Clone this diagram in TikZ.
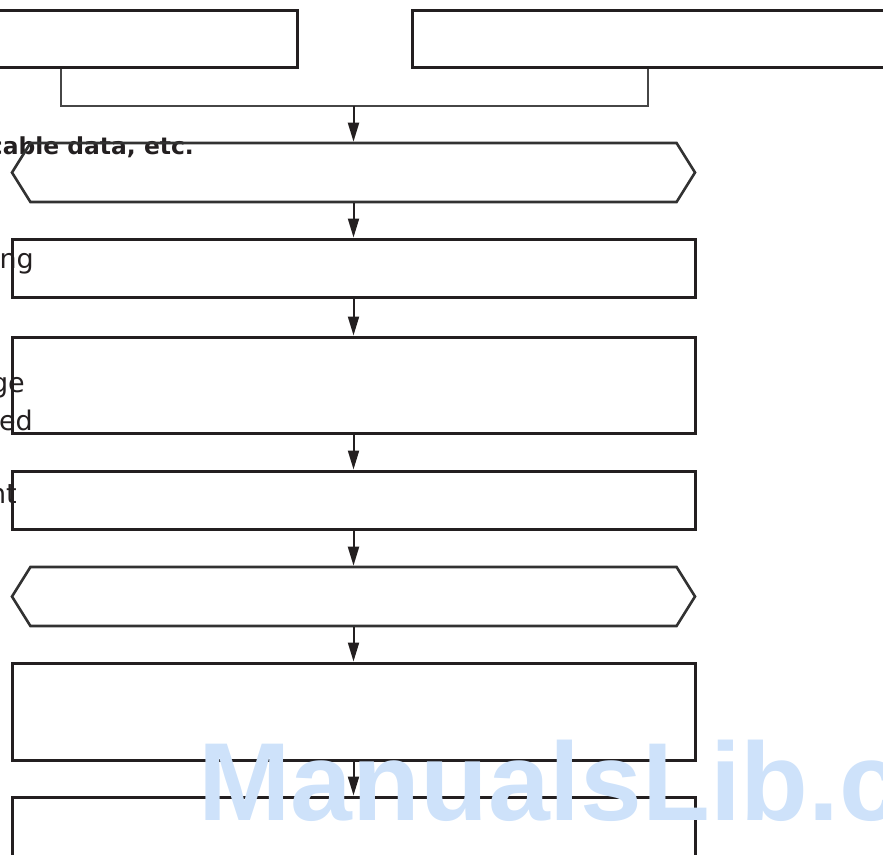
\documentclass[tikz,border=0pt]{standalone}
\usepackage{fontspec}
\setmainfont{DejaVu Sans}
\newfontfamily\marksans{Liberation Sans}
\usetikzlibrary{arrows.meta,shapes.symbols}
\definecolor{boxline}{RGB}{35,31,32}
\definecolor{hexline}{RGB}{50,50,50}
\definecolor{linkline}{RGB}{70,70,70}
\definecolor{markblue}{RGB}{206,226,250}
\tikzset{
  stepbox/.style={draw=boxline,line width=3pt,minimum width=683pt,inner sep=0pt},
  hexbox/.style={draw=hexline,line width=2.6pt,shape=signal,signal to=west and east,
    signal pointer angle=116,minimum width=683pt,minimum height=59pt,inner sep=0pt},
  flow/.style={draw=boxline,line width=2pt,-{Triangle[length=19pt,width=11pt]}},
  link/.style={draw=linkline,line width=1.6pt},
  side/.style={anchor=base east,inner sep=0pt,text=boxline,font=\fontsize{27}{32}\selectfont},
}
\begin{document}
\begin{tikzpicture}[x=1pt,y=-1pt]
    \useasboundingbox (0,0) rectangle (883,854);
    % column texts cut by the page edge
    \node[side,font=\bfseries\fontsize{23.4}{28}\selectfont] (noteA) at (194,154) {cable data, etc.};
    \node[side] (noteB) at (34,268) {ing};
    \node[side] (noteC) at (25,392) {ge};
    \node[side] (noteD) at (33,430) {ed};
    \node[side] (noteE) at (17,503) {nt};
    % boxes
    \node[stepbox,minimum width=497pt,minimum height=57pt] (topL) at (48.5,38.5) {};
    \node[stepbox,minimum width=588pt,minimum height=57pt] (topR) at (706,38.5) {};
    \node[hexbox] (hexA) at (353.5,172.5) {};
    \node[stepbox,minimum height=58pt] (boxB) at (353.5,268) {};
    \node[stepbox,minimum height=96pt] (boxC) at (353.5,385) {};
    \node[stepbox,minimum height=58pt] (boxD) at (353.5,500) {};
    \node[hexbox] (hexE) at (353.5,596.5) {};
    \node[stepbox,minimum height=97pt] (boxF) at (353.5,711.5) {};
    \node[stepbox,minimum height=100pt] (boxG) at (353.5,847) {};
    % connectors
    \coordinate (joinL) at (61,106);
    \coordinate (joinR) at (648,106);
    \coordinate (joinM) at (353.5,106);
    \draw[link] (topL.south -| joinL) -- (joinL) -- (joinR) -- (topR.south -| joinR);
    \draw[flow] (joinM) -- (hexA.north);
    \draw[flow] (hexA.south) -- (boxB.north);
    \draw[flow] (boxB.south) -- (boxC.north);
    \draw[flow] (boxC.south) -- (boxD.north);
    \draw[flow] (boxD.south) -- (hexE.north);
    \draw[flow] (hexE.south) -- (boxF.north);
    \draw[flow] (boxF.south) -- (boxG.north);
    % watermark
    \node[anchor=base west,inner sep=0pt,text=markblue,
      font=\marksans\bfseries\fontsize{111}{111}\selectfont] (mark) at (198,820) {ManualsLib.c};
\end{tikzpicture}
\end{document}
